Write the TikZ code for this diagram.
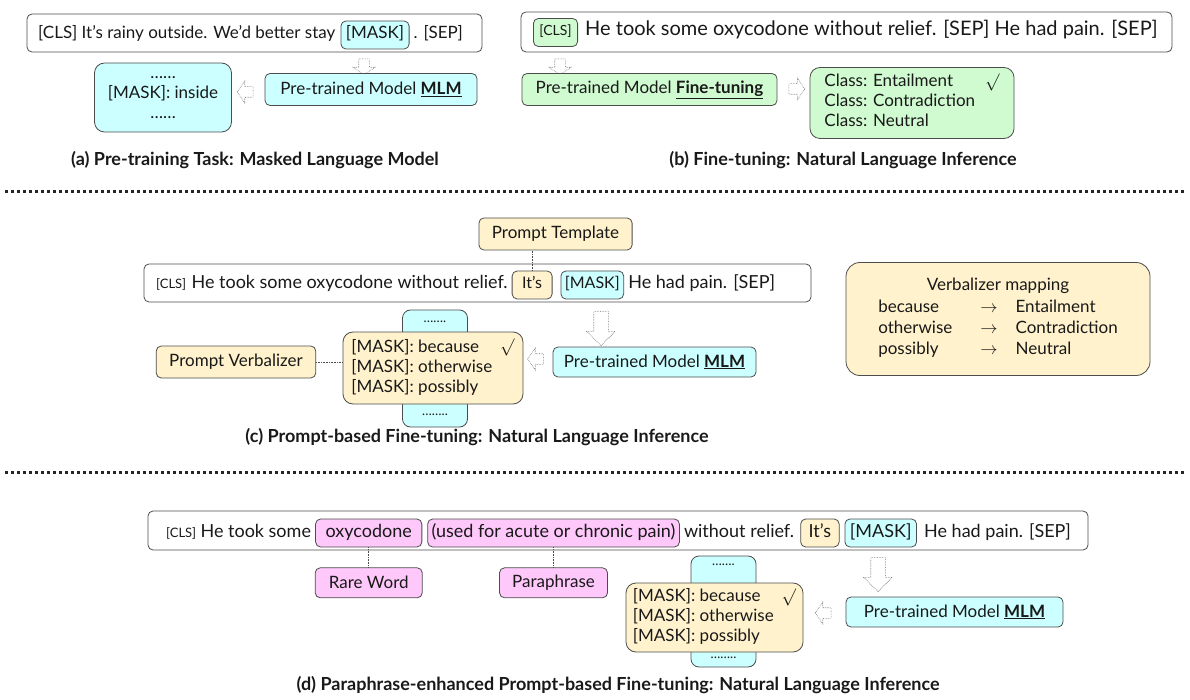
\documentclass[tikz,border=0pt]{standalone}
\usepackage{fontspec}
\setmainfont{Lato}
\usetikzlibrary{shapes,positioning}
\definecolor{cyanfill}{RGB}{204,255,255}
\definecolor{greenfill}{RGB}{208,250,208}
\definecolor{yellowfill}{RGB}{255,242,204}
\definecolor{pinkfill}{RGB}{255,200,250}
\newcommand{\normsize}{\fontsize{17}{20}\selectfont}
\newcommand{\tokensize}{\fontsize{16}{19}\selectfont}
\newcommand{\sentsize}{\fontsize{18}{21}\selectfont}
\newcommand{\smallsize}{\fontsize{13}{15}\selectfont}
\newcommand{\bigsize}{\fontsize{20}{23}\selectfont}
\newcommand{\capsize}{\fontsize{18}{21}\selectfont\bfseries}
\newcommand{\maskword}{[MASK]}

\begin{document}
\begin{tikzpicture}[x=1pt,y=-1pt]
		\tikzstyle{every node}+=[font=\normsize, text=black!90]
		\tikzstyle{box}=[draw=black!70, line width=0.8pt, rounded corners=5pt]
		\tikzstyle{sentbox}=[box, inner sep=0pt]
		\tikzstyle{wordtxt}=[inner sep=0pt]
		\tikzstyle{token}=[box, inner xsep=4pt, inner ysep=0pt, text height=12pt, text depth=4pt, minimum height=28pt]
		\tikzstyle{dotlink}=[densely dotted, draw=black!70, line width=0.6pt]
		\tikzstyle{sepline}=[line width=3pt, dash pattern=on 3pt off 3pt, black!85]
		\tikzstyle{hollowsmall}=[single arrow, draw=black!60, densely dotted, line width=0.6pt, fill=white, inner xsep=0pt, inner ysep=5pt, single arrow head extend=5.5pt, single arrow tip angle=110, minimum height=16pt]
		\tikzstyle{hollowbig}=[hollowsmall, inner ysep=7pt, single arrow head extend=7pt, single arrow tip angle=90, minimum height=34pt]
		\useasboundingbox (0,0) rectangle (1190,700);
		% (a) masked language model
		\node[sentbox, minimum width=455pt, minimum height=38pt] (asent) at (254.5,33) {};
		\node[wordtxt, anchor=base west] (a1) at (38,39) {[CLS] It’s rainy outside. We’d better stay};
		\node[token, fill=cyanfill, inner xsep=5pt, base right=5pt of a1] (amask) {[MASK]};
		\node[wordtxt, base right=4pt of amask] (a2) {. [SEP]};
		\node[hollowsmall, rotate=270] (adown) at (364,65) {};
		\node[box, fill=cyanfill, minimum width=212pt, minimum height=32pt] (amlm) at (371,89.5) {Pre-trained Model \underline{\textbf{MLM}}};
		\node[hollowsmall, rotate=180] (aleft) at (247,92) {};
		\node[box, fill=cyanfill, rounded corners=10pt, minimum width=137pt, minimum height=69pt, align=center] (aout) at (163,97.5) {……\\\maskword: inside\\……};
		\node[font=\capsize] (acap) at (255,160) {(a) Pre-training Task: Masked Language Model};
		% (b) fine-tuning
		\node[sentbox, minimum width=651pt, minimum height=40pt] (bsent) at (846.5,32) {};
		\node[token, fill=greenfill, font=\fontsize{14}{16}\selectfont, anchor=west, inner xsep=6pt, text height=10pt, text depth=3pt, minimum height=28pt] (bcls) at (533,32.5) {[CLS]};
		\node[wordtxt, font=\bigsize, base right=7pt of bcls] (b1) {He took some oxycodone without relief. [SEP] He had pain. [SEP]};
		\node[hollowsmall, rotate=270] (bdown) at (560,65) {};
		\node[box, fill=greenfill, minimum width=255pt, minimum height=32pt] (bft) at (649.5,89.5) {Pre-trained Model \underline{\textbf{Fine-tuning}}};
		\node[hollowsmall] (bright) at (795,89) {};
		\node[box, fill=greenfill, rounded corners=10pt, minimum width=204pt, minimum height=71pt] (bclass) at (912,103) {\begin{tabular}{@{}l@{\hspace{10pt}}l@{}}Class: Entailment & $\surd$\\Class: Contradiction & \\Class: Neutral & \end{tabular}};
		\node[font=\capsize] (bcap) at (843,160) {(b) Fine-tuning: Natural Language Inference};
		\draw[sepline] (5,192) -- (1186,192);
		% (c) prompt-based fine-tuning
		\node[box, fill=yellowfill, minimum height=32pt, inner xsep=13pt] (ptemp) at (555.5,234) {Prompt Template};
		\node[sentbox, minimum width=667pt, minimum height=38pt] (csent) at (477.5,283) {};
		\node[wordtxt, font=\smallsize, anchor=base west] (ccls) at (156,289) {[CLS]};
		\node[wordtxt, font=\sentsize, base right=5pt of ccls] (c1) {He took some oxycodone without relief.};
		\node[token, font=\tokensize, fill=yellowfill, inner xsep=10pt, base right=4pt of c1] (cits) {It’s};
		\node[token, font=\tokensize, fill=cyanfill, base right=8pt of cits] (cmask) {[MASK]};
		\node[wordtxt, font=\sentsize, base right=4pt of cmask] (c2) {He had pain. [SEP]};
		\draw[dotlink] (cits.north) -- (cits.north |- ptemp.south);
		\node[hollowbig, rotate=270] (cdown) at (601,325) {};
		\node[box, fill=cyanfill, minimum width=203pt, minimum height=30pt] (cmlm) at (654.5,362) {Pre-trained Model \underline{\textbf{MLM}}};
		\node[hollowsmall, rotate=180] (cleft) at (537.5,359) {};
		\node[box, fill=cyanfill, rounded corners=8pt, font=\smallsize, minimum width=65pt, minimum height=117pt, align=center] (cdots) at (435,368.5) {…….\\[78pt]……..};
		\node[box, fill=yellowfill, rounded corners=10pt, minimum width=180pt, minimum height=72pt] (cverb) at (433,368) {\begin{tabular}{@{}l@{\hspace{8pt}}l@{}}\maskword: because & $\surd$\\\maskword: otherwise & \\\maskword: possibly & \end{tabular}};
		\node[box, fill=yellowfill, minimum height=32pt, inner xsep=13pt] (pverb) at (236,362) {Prompt Verbalizer};
		\draw[dotlink] (pverb.east) -- (pverb.east -| cverb.west);
		\node[box, fill=yellowfill, rounded corners=14pt, minimum width=304pt, minimum height=113pt, align=center] (vmap) at (998,319) {Verbalizer mapping\\[3pt]\renewcommand{\arraystretch}{1.05}\begin{tabular}{@{}l@{\hspace{28pt}}l@{\hspace{18pt}}l@{}}because & $\rightarrow$ & Entailment\\otherwise & $\rightarrow$ & Contradiction\\possibly & $\rightarrow$ & Neutral\end{tabular}};
		\node[font=\capsize] (ccap) at (477,437) {(c) Prompt-based Fine-tuning: Natural Language Inference};
		\draw[sepline] (5,472) -- (1186,472);
		% (d) paraphrase-enhanced prompt-based fine-tuning
		\node[sentbox, minimum width=940pt, minimum height=39pt] (dsent) at (618,530.5) {};
		\node[wordtxt, font=\smallsize, anchor=base west] (dcls) at (166,537) {[CLS]};
		\node[wordtxt, font=\sentsize, base right=4pt of dcls] (d1) {He took some};
		\node[token, font=\sentsize, fill=pinkfill, inner xsep=10pt, base right=4pt of d1] (dox) {oxycodone};
		\node[token, font=\sentsize, fill=pinkfill, base right=5pt of dox] (dpara) {(used for acute or chronic pain)};
		\node[wordtxt, font=\sentsize, base right=4pt of dpara] (d2) {without relief.};
		\node[token, font=\sentsize, fill=yellowfill, inner xsep=8pt, base right=6pt of d2] (dits) {It’s};
		\node[token, font=\sentsize, fill=cyanfill, inner xsep=5pt, base right=5pt of dits] (dmask) {[MASK]};
		\node[wordtxt, font=\sentsize, base right=7pt of dmask] (d3) {He had pain. [SEP]};
		\node[box, fill=pinkfill, minimum height=30pt, minimum width=107pt, below=20pt of dox] (drare) {Rare Word};
		\node[box, fill=pinkfill, minimum height=30pt, minimum width=108pt, below=20pt of dpara] (dparaph) {Paraphrase};
		\draw[dotlink] (dox) -- (drare);
		\draw[dotlink] (dpara) -- (dparaph);
		\node[hollowbig, rotate=270] (ddown) at (878,571) {};
		\node[box, fill=cyanfill, minimum width=217pt, minimum height=30pt] (dmlm) at (954.5,612) {Pre-trained Model \underline{\textbf{MLM}}};
		\node[hollowsmall, rotate=180] (dleft) at (825,613) {};
		\node[box, fill=cyanfill, rounded corners=8pt, font=\smallsize, minimum width=65pt, minimum height=111pt, align=center] (ddots) at (723.5,611.5) {…….\\[78pt]……..};
		\node[box, fill=yellowfill, rounded corners=10pt, minimum width=177pt, minimum height=69pt] (dverb) at (714.5,617.5) {\begin{tabular}{@{}l@{\hspace{8pt}}l@{}}\maskword: because & $\surd$\\\maskword: otherwise & \\\maskword: possibly & \end{tabular}};
		\node[font=\capsize] (dcap) at (618,685) {(d) Paraphrase-enhanced Prompt-based Fine-tuning: Natural Language Inference};
\end{tikzpicture}
\end{document}
